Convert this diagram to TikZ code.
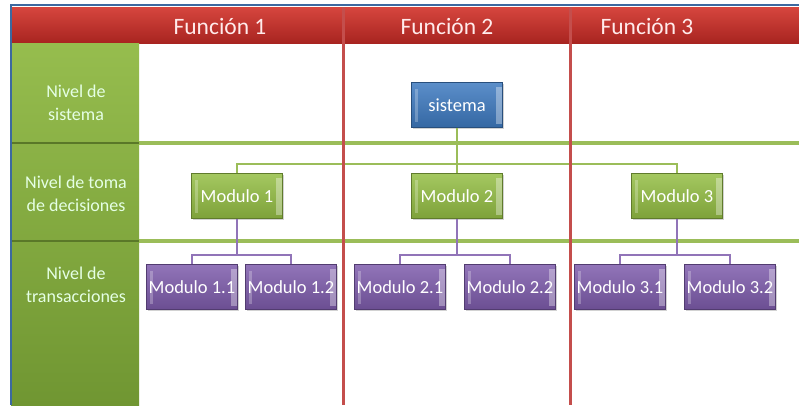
\documentclass[tikz,border=0pt]{standalone}
\usepackage{fontspec}
\setmainfont{Carlito}
\usetikzlibrary{shadows}

\definecolor{hdrtop}{RGB}{214,70,62}
\definecolor{hdrbot}{RGB}{168,36,32}
\definecolor{coltop}{RGB}{150,189,78}
\definecolor{colbot}{RGB}{112,150,50}
\definecolor{gridg}{RGB}{155,189,89}
\definecolor{gridr}{RGB}{196,78,76}
\definecolor{framebl}{RGB}{60,105,160}
\definecolor{boxblue}{RGB}{62,122,192}
\definecolor{boxgreen}{RGB}{148,190,68}
\definecolor{boxviolet}{RGB}{126,92,172}

\tikzset{
  modbox/.style={rectangle, minimum width=91pt, minimum height=45pt, inner sep=0pt,
    text=white, font=\fontsize{18.5}{20}\selectfont,
    draw=#1!65!black, top color=#1!85!white, bottom color=#1!85!black,
    drop shadow={opacity=.35, shadow xshift=1.5pt, shadow yshift=-1.5pt},
    path picture={
      \fill[white, opacity=.25] ([xshift=3pt,yshift=6pt]path picture bounding box.south west)
        rectangle ([xshift=6pt,yshift=-6pt]path picture bounding box.north west);
      \fill[white, opacity=.35] ([xshift=-7pt,yshift=4pt]path picture bounding box.south east)
        rectangle ([xshift=-1pt,yshift=-4pt]path picture bounding box.north east);
    }},
  hdrtext/.style={text=white!92!red, font=\fontsize{23.5}{26}\selectfont},
  leveltext/.style={text=white!90!green, align=center, font=\fontsize{18}{22.5}\selectfont},
  gridline/.style={line width=3.5pt, draw=gridg},
  funcline/.style={line width=3pt, draw=gridr},
  conng/.style={line width=2.5pt, draw=gridg},
  connv/.style={line width=2.5pt, draw=boxviolet!85!white},
}

\begin{document}
\begin{tikzpicture}[x=1pt, y=-1pt]
	\useasboundingbox (0,0) rectangle (799,405);
	\fill[white] (0,0) rectangle (799,405);
	
	% header and level column
	\shade[top color=hdrtop, bottom color=hdrbot] (10,7) rectangle (799,43);
	\shade[top color=coltop, bottom color=colbot] (11,43) rectangle (139,405);
	\draw[colbot!80!black, line width=2pt] (11,143) -- (139,143);
	\draw[colbot!80!black, line width=2pt] (11,241) -- (139,241);
	
	% grid
	\draw[gridline] (139,143) -- (799,143);
	\draw[gridline] (139,241) -- (799,241);
	
	\node[hdrtext] (f1) at (220,26) {Función 1};
	\node[hdrtext] (f2) at (447,26) {Función 2};
	\node[hdrtext] (f3) at (647,26) {Función 3};
	
	\node[leveltext] (lsis) at (76,103) {Nivel de\\sistema};
	\node[leveltext] (ldec) at (76,194) {Nivel de toma\\de decisiones};
	\node[leveltext] (ltra) at (76,285) {Nivel de\\transacciones};
	
	% boxes
	\node[modbox=boxblue] (sis) at (457,105) {sistema};
	\node[modbox=boxgreen] (m1) at (237,196) {Modulo 1};
	\node[modbox=boxgreen] (m2) at (457,196) {Modulo 2};
	\node[modbox=boxgreen] (m3) at (677,196) {Modulo 3};
	\node[modbox=boxviolet] (m11) at (192,287) {Modulo 1.1};
	\node[modbox=boxviolet] (m12) at (291,287) {Modulo 1.2};
	\node[modbox=boxviolet] (m21) at (400,287) {Modulo 2.1};
	\node[modbox=boxviolet] (m22) at (510,287) {Modulo 2.2};
	\node[modbox=boxviolet] (m31) at (620,287) {Modulo 3.1};
	\node[modbox=boxviolet] (m32) at (730,287) {Modulo 3.2};
	
	% connectors
	\coordinate (j0) at (457,164);
	\coordinate (j1) at (237,255);
	\coordinate (j2) at (457,255);
	\coordinate (j3) at (677,255);
	\draw[conng] (sis.south) -- (m2.north);
	\draw[conng] (m1.north) |- (j0) -| (m3.north);
	\draw[connv] (m1.south) -- (j1);
	\draw[connv] (m11.north) |- (j1) -| (m12.north);
	\draw[connv] (m2.south) -- (j2);
	\draw[connv] (m21.north) |- (j2) -| (m22.north);
	\draw[connv] (m3.south) -- (j3);
	\draw[connv] (m31.north) |- (j3) -| (m32.north);
	
	% function separators and frame
	\draw[funcline] (343,7) -- (343,405);
	\draw[funcline] (570,7) -- (570,405);
	\draw[framebl, line width=1.5pt] (11,405) -- (11,5) -- (799,5);
\end{tikzpicture}
\end{document}
